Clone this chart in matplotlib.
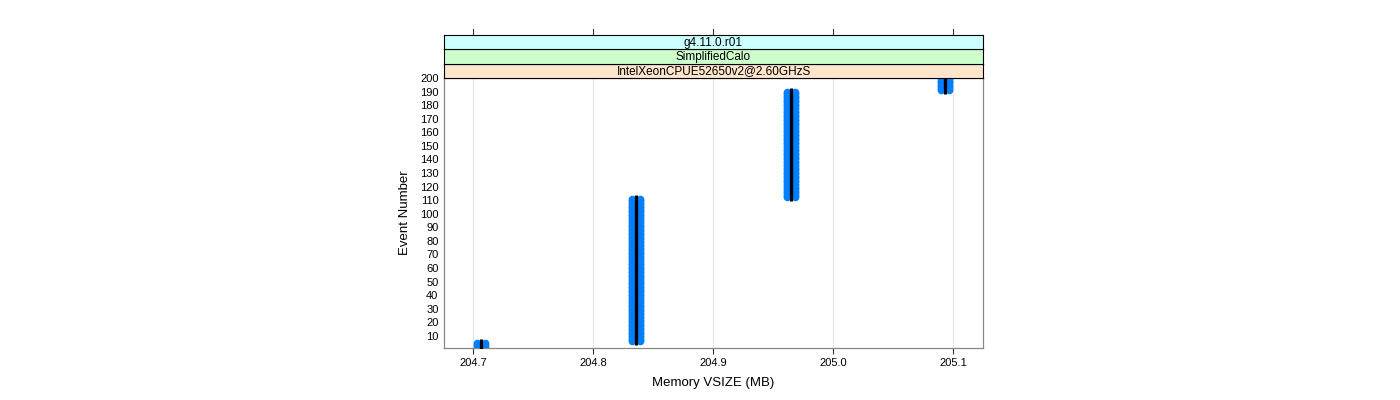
#!/usr/bin/env python3
"""Memory VSIZE vs event number, lattice-style panel with three strips."""
import matplotlib
matplotlib.use("Agg")
import matplotlib.pyplot as plt
import matplotlib.transforms as mtransforms

plt.rcParams['font.family'] = ['Liberation Sans', 'DejaVu Sans']

# memory plateaus (MB) and the event ranges that sit on each one
VSIZE = [204.7067, 204.8356, 204.9648, 205.0936]
FIRST_EVENT = [1, 6, 112, 191]
LAST_EVENT = [5, 111, 190, 200]

X_TICKS = [204.7, 204.8, 204.9, 205.0, 205.1]
X_TICKLABELS = ["204.7", "204.8", "204.9", "205.0", "205.1"]
Y_TICKS = [10, 20, 30, 40, 50, 60, 70, 80, 90, 100,
           110, 120, 130, 140, 150, 160, 170, 180, 190, 200]

STRIPS = ["IntelXeonCPUE52650v2@2.60GHzS", "SimplifiedCalo", "g4.11.0.r01"]
STRIP_COLORS = ["#ffe5cc", "#ccffcc", "#ccffff"]

BLUE = "#0080ff"
BORDER = "#888888"

# expand plateaus into one point per event
ev, mem = [], []
for v, a, b in zip(VSIZE, FIRST_EVENT, LAST_EVENT):
    for e in range(a, b + 1):
        ev.append(e)
        mem.append(v)

fig = plt.figure(figsize=(14, 4), dpi=100)
W, H = 1400, 400
left, right, bottom, top = 444, 983, 348, 78
ax = fig.add_axes([left / W, 1 - bottom / H, (right - left) / W, (bottom - top) / H])

ax.set_xlim(204.6758, 205.125)
ax.set_ylim(1, 200)

for t in X_TICKS:
    ax.axvline(t, color="#e6e6e6", lw=0.8, zorder=0)

off = 0.0033
ax.scatter([m - off for m in mem], ev, s=30, color=BLUE, lw=0, zorder=2)
ax.scatter([m + off for m in mem], ev, s=30, color=BLUE, lw=0, zorder=2)
ax.plot(mem, ev, ls="none", marker="|", ms=5.8, mew=2.2, color="black", zorder=3)

ax.set_xticks(X_TICKS)
ax.set_xticklabels(X_TICKLABELS)
ax.set_yticks(Y_TICKS)
ax.tick_params(axis="x", direction="out", length=4.5, width=0.8, color="#333333",
               labelsize=8, pad=3)
ax.tick_params(axis="y", length=0, labelsize=8, pad=4)
for s in ax.spines.values():
    s.set_color(BORDER)
    s.set_linewidth(0.9)

ax.set_xlabel("Memory VSIZE (MB)", fontsize=9.5, labelpad=6)
ax.set_ylabel("Event Number", fontsize=9.5, labelpad=6)

# strips stacked above the panel
strip_h = 14.4
for i, (txt, col) in enumerate(zip(STRIPS, STRIP_COLORS)):
    y0 = top - (i + 1) * strip_h
    sax = fig.add_axes([left / W, 1 - (y0 + strip_h) / H, (right - left) / W, strip_h / H])
    sax.set_facecolor(col)
    sax.set_xticks([]); sax.set_yticks([])
    for s in sax.spines.values():
        s.set_color("black")
        s.set_linewidth(0.8)
    sax.text(0.5, 0.45, txt, ha="center", va="center", fontsize=8.5,
             transform=sax.transAxes)

# tick marks above the strips
strip_top = (bottom - (top - 3 * strip_h)) / (bottom - top)
trans = mtransforms.blended_transform_factory(ax.transData, ax.transAxes)
for t in X_TICKS:
    ax.plot([t, t], [strip_top, strip_top + 6 / (bottom - top)], color="#333333",
            lw=0.8, transform=trans, clip_on=False)

fig.savefig("out.png", dpi=100)
